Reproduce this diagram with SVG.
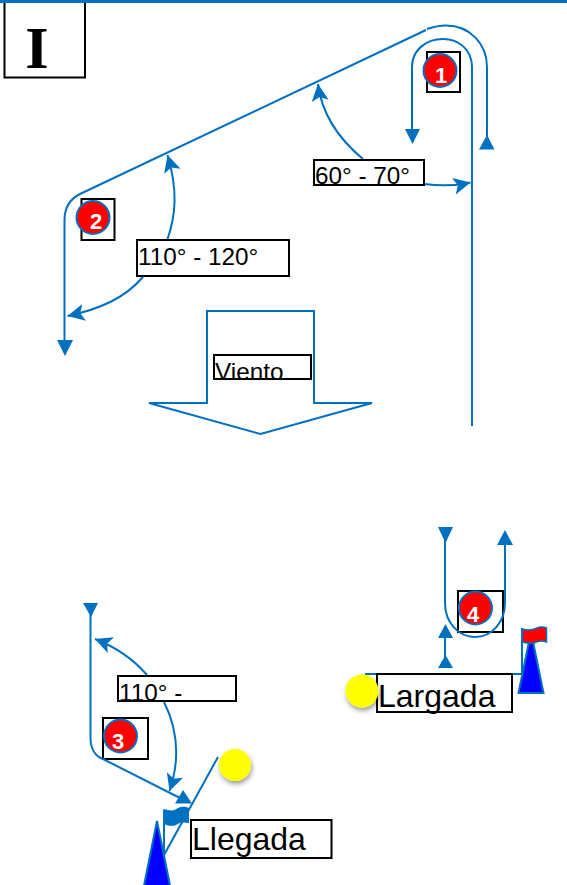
<svg xmlns="http://www.w3.org/2000/svg" width="567" height="885" viewBox="0 0 567 885">
<style>
.c{fill:none;stroke:#0070C0;stroke-width:2}
.t{fill:#0070C0;stroke:none}
.a{fill:none;stroke:#0070C0;stroke-width:2;marker-end:url(#st)}
.b{fill:none;stroke:#000;stroke-width:2}
.l{fill:#fff;stroke:#000;stroke-width:2}
.n{fill:#FF0000;stroke:#0070C0;stroke-width:2}
.d{font-family:"Liberation Sans",Arial,sans-serif;font-weight:700;font-size:22px;fill:#fff;text-anchor:middle}
.x{font-family:"Liberation Sans",Arial,sans-serif;fill:#000}
.m{font-size:24.3px}
.g{font-size:32px}
.y{fill:#FFFF00;filter:url(#sh)}
.cone{fill:#0000FF;stroke:#0070C0;stroke-width:2}
</style>
<defs>
<marker id="st" markerUnits="userSpaceOnUse" markerWidth="20" markerHeight="20" refX="17" refY="8.500" orient="auto" viewBox="0 0 20 17">
<path d="M0 0L17 8.500L0 17L4 8.500Z" fill="#0070C0"/>
</marker>
<filter id="sh" x="-40%" y="-40%" width="190%" height="190%">
<feDropShadow dx="1" dy="3" stdDeviation="2.500" flood-color="#000" flood-opacity="0.4"/>
</filter>
<clipPath id="c60"><rect x="314" y="160" width="110" height="25"/></clipPath>
<clipPath id="cv"><rect x="214" y="355" width="97" height="24"/></clipPath>
<clipPath id="c110"><rect x="118" y="676" width="118" height="25"/></clipPath>
</defs>
<g id="title"><rect x="4.500" y="2" width="80.500" height="75.500" class="l"/><text x="37" y="68" text-anchor="middle" font-family="Liberation Serif,serif" font-weight="700" font-size="60">I</text></g>
<rect x="0" y="0" width="567" height="3" fill="#0070C0"/>
<g id="boxes">
<rect x="427" y="52" width="33" height="40" class="b"/>
<rect x="81.500" y="199" width="33" height="41" class="b"/>
<rect x="103" y="718" width="45" height="41" class="b"/>
<rect x="458" y="591" width="45" height="41" class="b"/>
</g>
<g id="connectors">
<path class="c" d="M426 30L80 194C70 199 64.500 208 64.500 220V342"/>
<polygon class="t" points="57,340 73,340 65,356"/>
<path class="c" d="M427 29C433 27 440 25.500 446 25.500C470 25.500 487 44 487 67V137"/>
<polygon class="t" points="479,149.500 494.500,149.500 487,135"/>
<path class="c" d="M472 426V67C472 50 459 39 443 39C426 39 412 50 412 67V132"/>
<polygon class="t" points="405,129 420,129 412.500,144"/>
<path class="a" d="M363 159C340 140 322 115 318 84"/>
<path class="a" d="M424 184C440 186 455 186 470.500 182.500"/>
<path class="a" d="M167 241C176 215 178 190 167.500 155"/>
<path class="a" d="M143 277C125 298 100 309 67.500 316"/>
<path class="c" d="M445 530V603C445 622 458 637 475 637C492 637 505 622 505 603V542"/>
<polygon class="t" points="438,527 453,527 445.500,543"/>
<polygon class="t" points="497,545 513,545 505,530"/>
<path class="c" d="M445 630V658"/>
<polygon class="t" points="438,638 453,638 445.500,624"/>
<polygon class="t" points="438,668 453,668 445.500,655"/>
<path class="c" d="M365 674H522"/>
<path class="c" d="M90.500 612V738C90.500 748 95 756 103 759L180 798"/>
<polygon class="t" points="83,603 98,603 91,617"/>
<polygon class="t" points="175,803.500 192,803.500 183,790"/>
<path class="a" d="M147 675C134 660 118 648 95 639"/>
<path class="a" d="M164 702C178 730 180 760 169.500 791"/>
<path class="c" d="M218 757L164 855"/>
</g>
<g id="viento"><polygon points="207,311 314,311 314,403 372,403 260.500,434 149,403 207,403" fill="#fff" stroke="#0070C0" stroke-width="2"/>
<rect x="214" y="355" width="97" height="24" class="l"/><text class="x m" x="215" y="380" clip-path="url(#cv)">Viento</text></g>
<g id="label-60"><rect x="314" y="160" width="110" height="25" class="l"/><text class="x m" x="315" y="184" clip-path="url(#c60)">60° - 70°</text></g>
<g id="label-110"><rect x="137" y="240" width="152" height="36" class="l"/><text class="x m" x="138" y="265">110° - 120°</text></g>
<g id="label-110b"><rect x="118" y="676" width="118" height="25" class="l"/><text class="x m" x="119" y="701" clip-path="url(#c110)">110° -</text></g>
<g id="node-1"><circle cx="440" cy="70.500" r="16.500" class="n"/><text class="d" x="441" y="83">1</text></g>
<g id="node-2"><circle cx="93" cy="217.500" r="16.500" class="n"/><text class="d" x="96" y="229">2</text></g>
<g id="node-3"><circle cx="120.500" cy="736" r="16.500" class="n"/><text class="d" x="118" y="749">3</text></g>
<g id="node-4"><circle cx="475.500" cy="608" r="16.500" class="n"/><text class="d" x="473" y="622">4</text></g>
<g id="llegada-mark">
<path d="M164 810V856" fill="none" stroke="#0070C0" stroke-width="2"/>
<path d="M163.500 809C171 811 174 811 178 808C182 806 186 807 189 808V823C183 822 180 822 176 825C171 827 167 825 163.500 824Z" fill="#0070C0"/>
<polygon class="cone" points="157,821 143.500,888 170.500,888"/>
</g>
<g id="llegada"><rect x="191" y="820" width="140.500" height="38" class="l"/><text class="x g" x="192" y="850">Llegada</text></g>
<g id="buoy-a"><circle cx="235" cy="765" r="16" class="y"/></g>
<g id="largada-mark">
<path d="M522 628V674" fill="none" stroke="#0070C0" stroke-width="2"/>
<polygon class="cone" points="531,632 518.500,693 543.500,693"/>
<path d="M522.500 629C529 631 533 630 537 628C541 626 544 627 546.500 628V642C541 640 538 641 534 643C530 644 526 643 522.500 642Z" fill="#FF0000" stroke="#0070C0" stroke-width="1.500"/>
</g>
<g id="largada"><rect x="377" y="674" width="135" height="38" class="l"/><text class="x g" x="378" y="707">Largada</text></g>
<g id="buoy-b"><circle cx="362" cy="691" r="16.500" class="y"/></g>
</svg>
